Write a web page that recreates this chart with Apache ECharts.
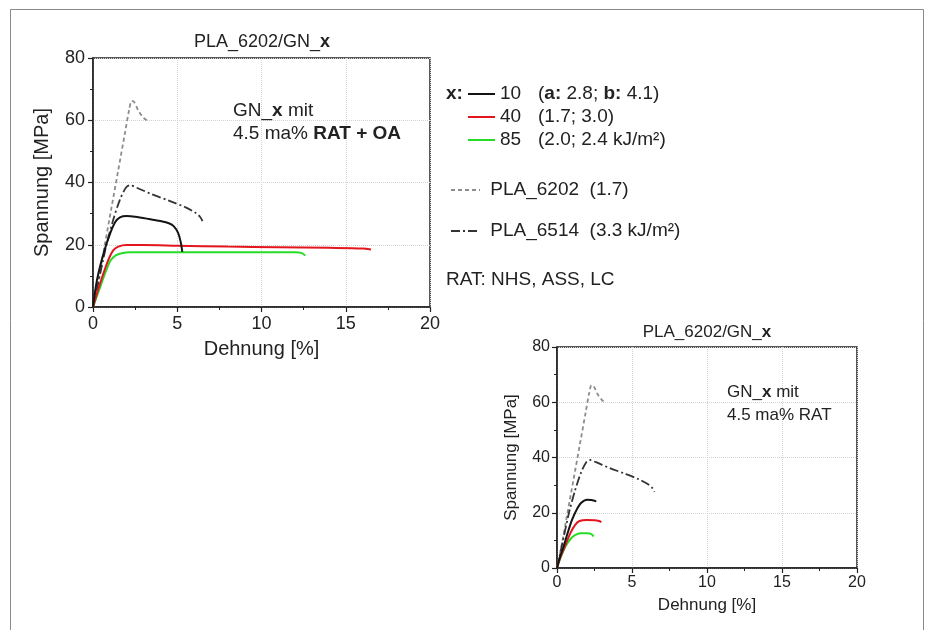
<!DOCTYPE html>
<html>
<head>
<meta charset="utf-8">
<script src="https://cdn.jsdelivr.net/npm/echarts@6/dist/echarts.min.js"></script>
<style>
html, body { margin: 0; padding: 0; background: #fff; }
#main { width: 928px; height: 630px; }
</style>
</head>
<body>
<div id="main"></div>
<script>
// axis ranges (Dehnung [%], Spannung [MPa])
var xRange = [0, 20, 5];
var yRange = [0, 80, 20];

// reference materials, same in both panels
var pla6202 = [[0, 0], [0.3, 8], [0.7, 20], [1.1, 32], [1.5, 44], [1.9, 56], [2.15, 63.5], [2.3, 66.2], [2.45, 65.8], [2.7, 63], [3.0, 60.8], [3.2, 60]];
var pla6514 = [[0, 0], [0.4, 10], [0.8, 20], [1.2, 28], [1.6, 34.5], [1.95, 38.3], [2.2, 39.1], [2.6, 38.3], [3.5, 36.2], [4.5, 34.2], [5.5, 32], [6.1, 30.2], [6.35, 29], [6.5, 27.6]];

// GN_x with 4.5 ma% RAT + OA (top panel)
var oa10 = [[0, 0], [0.24, 8.8], [0.63, 17.3], [1.03, 23.8], [1.32, 27.3], [1.6, 28.8], [2.0, 29.2], [2.5, 29], [3.3, 28.3], [4.0, 27.6], [4.5, 26.9], [4.8, 25.9], [5.05, 23.8], [5.2, 21], [5.3, 17.7]];
var oa40 = [[0, 0], [0.3, 5.5], [0.6, 10.5], [0.9, 15], [1.2, 18.2], [1.5, 19.4], [2, 19.9], [3, 19.9], [5, 19.7], [8, 19.4], [11, 19.2], [14, 19], [16, 18.8], [16.5, 18.5]];
var oa85 = [[0, 0], [0.3, 4.5], [0.55, 8.3], [0.8, 12], [1.05, 15], [1.35, 16.6], [1.7, 17.3], [2.2, 17.6], [5, 17.6], [9, 17.6], [12, 17.6], [12.4, 17.3], [12.6, 16.5]];

// GN_x with 4.5 ma% RAT (bottom panel)
var rat10 = [[0, 0], [0.2, 4], [0.44, 7.8], [0.7, 12.5], [1.0, 17.4], [1.3, 21], [1.6, 23.5], [2.0, 24.7], [2.3, 24.6], [2.62, 24.1]];
var rat40 = [[0, 0], [0.2, 3.5], [0.5, 7.5], [0.89, 12.6], [1.2, 15.5], [1.5, 17], [2.0, 17.4], [2.5, 17.3], [2.8, 17], [2.96, 16.6]];
var rat85 = [[0, 0], [0.2, 3.2], [0.56, 7.8], [0.9, 10.5], [1.2, 11.9], [1.56, 12.6], [2.0, 12.6], [2.3, 12.3], [2.44, 11.4]];

var FONT = 'Liberation Sans';
var C_BLACK = '#141414', C_RED = '#e3161e', C_GREEN = '#27dc27', C_GRAY = '#8c8c8c', C_DASHDOT = '#333333';

var myChart = echarts.init(document.getElementById('main'));

function curve(name, data, idx, color, type, width) {
	return {
		name: name,
		type: 'line',
		xAxisIndex: idx,
		yAxisIndex: idx,
		data: data,
		symbol: 'none',
		smooth: 0.3,
		lineStyle: { color: color, width: width, type: type },
		itemStyle: { color: color }
	};
}

function xAxisFor(idx, fs, nfs, gap, nameGap) {
	return {
		gridIndex: idx,
		type: 'value',
		min: xRange[0], max: xRange[1], interval: xRange[2],
		name: 'Dehnung [%]',
		nameLocation: 'middle',
		nameGap: nameGap,
		nameTextStyle: { fontFamily: FONT, fontSize: nfs, color: '#222', verticalAlign: 'top' },
		axisLine: { show: true, onZero: false, lineStyle: { color: '#222', width: 1.5 } },
		axisTick: { show: true, length: 5, lineStyle: { color: '#222', width: 1.2 } },
		minorTick: { show: true, splitNumber: 2, length: 3, lineStyle: { color: '#222', width: 1 } },
		axisLabel: { fontFamily: FONT, fontSize: fs, color: '#222', margin: gap },
		splitLine: { show: true, lineStyle: { color: '#d2d2d2', type: 'dotted', width: 1 } }
	};
}

function yAxisFor(idx, fs, nfs, gap, nameGap) {
	return {
		gridIndex: idx,
		type: 'value',
		min: yRange[0], max: yRange[1], interval: yRange[2],
		name: 'Spannung [MPa]',
		nameLocation: 'middle',
		nameGap: nameGap,
		nameTextStyle: { fontFamily: FONT, fontSize: nfs, color: '#222' },
		axisLine: { show: true, onZero: false, lineStyle: { color: '#222', width: 1.5 } },
		axisTick: { show: true, length: 5, lineStyle: { color: '#222', width: 1.2 } },
		minorTick: { show: true, splitNumber: 2, length: 3, lineStyle: { color: '#222', width: 1 } },
		axisLabel: { fontFamily: FONT, fontSize: fs, color: '#222', margin: gap },
		splitLine: { show: true, lineStyle: { color: '#d2d2d2', type: 'dotted', width: 1 } }
	};
}

var LFS = 19;
var legendText = { fontFamily: FONT, fontSize: LFS, color: '#222', lineHeight: 20 };
var legendRich = {
	n: { fontFamily: FONT, fontSize: LFS, color: '#222', width: 38 },
	t: { fontFamily: FONT, fontSize: LFS, color: '#222' },
	b: { fontFamily: FONT, fontSize: LFS, color: '#222', fontWeight: 'bold' }
};

function legendItem(name, left, top, w, fmt) {
	return {
		data: [name],
		left: left,
		top: top,
		padding: 0,
		itemWidth: w,
		itemHeight: 12,
		selectedMode: false,
		itemStyle: { opacity: 0, borderWidth: 0 },
		textStyle: Object.assign({ rich: legendRich }, legendText),
		formatter: fmt
	};
}

var titleStyle = { fontFamily: FONT, fontSize: 18, fontWeight: 'normal', color: '#222', lineHeight: 23 };

function textBox(text, left, top, fs, align) {
	return {
		text: text,
		left: left,
		top: top,
		padding: 0,
		textAlign: align || 'left',
		textStyle: Object.assign({}, titleStyle, {
			fontSize: fs,
			rich: {
				r: { fontFamily: FONT, fontSize: fs, color: '#222', lineHeight: 23 },
				b: { fontFamily: FONT, fontSize: fs, color: '#222', fontWeight: 'bold', lineHeight: 23 }
			}
		})
	};
}

var option = {
	animation: false,
	backgroundColor: '#fff',
	title: [
		textBox('{r|PLA_6202/GN_}{b|x}', 262, 31, 18, 'center'),
		textBox('{r|PLA_6202/GN_}{b|x}', 707, 321, 17, 'center'),
		textBox('{r|GN_}{b|x}{r| mit}\n{r|4.5 ma% }{b|RAT + OA}', 233, 99, 19),
		textBox('{r|GN_}{b|x}{r| mit}\n{r|4.5 ma% RAT}', 727, 381, 17),
		textBox('{b|x:}', 446, 82, 19),
		textBox('{r|RAT: NHS, ASS, LC}', 446, 268, 19)
	],
	legend: [
		legendItem('10', 467, 84, 27, function () { return '{n|10}{t|(}{b|a:}{t| 2.8; }{b|b:}{t| 4.1)}'; }),
		legendItem('40', 467, 107, 27, function () { return '{n|40}{t|(1.7; 3.0)}'; }),
		legendItem('85', 467, 130, 27, function () { return '{n|85}{t|(2.0; 2.4 kJ/m²)}'; }),
		legendItem('PLA_6202', 450, 180, 29, function () { return '{t| PLA_6202  (1.7)}'; }),
		legendItem('PLA_6514', 450, 221, 29, function () { return '{t| PLA_6514  (3.3 kJ/m²)}'; })
	],
	graphic: [{
		type: 'rect',
		silent: true,
		shape: { x: 10.5, y: 9.5, width: 913, height: 640 },
		style: { fill: 'none', stroke: '#8a8a8a', lineWidth: 1 }
	}],
	grid: [
		{ left: 93, top: 58, width: 337, height: 249, show: true, borderColor: '#222', borderWidth: 1.5, backgroundColor: 'transparent' },
		{ left: 557, top: 347, width: 300, height: 221, show: true, borderColor: '#222', borderWidth: 1.5, backgroundColor: 'transparent' }
	],
	xAxis: [xAxisFor(0, 18, 20, 8, 32), xAxisFor(1, 16, 17, 7, 29)],
	yAxis: [yAxisFor(0, 18, 20, 8, 41), yAxisFor(1, 16, 17, 7, 37)],
	series: [
		curve('PLA_6202', pla6202, 0, C_GRAY, [4, 3], 1.8),
		curve('PLA_6514', pla6514, 0, C_DASHDOT, [9, 3, 2, 3], 1.8),
		curve('85', oa85, 0, C_GREEN, 'solid', 2),
		curve('40', oa40, 0, C_RED, 'solid', 2),
		curve('10', oa10, 0, C_BLACK, 'solid', 2),
		curve('PLA_6202', pla6202, 1, C_GRAY, [4, 3], 1.8),
		curve('PLA_6514', pla6514, 1, C_DASHDOT, [9, 3, 2, 3], 1.8),
		curve('85', rat85, 1, C_GREEN, 'solid', 2),
		curve('40', rat40, 1, C_RED, 'solid', 2),
		curve('10', rat10, 1, C_BLACK, 'solid', 2)
	]
};
myChart.setOption(option);
</script>
</body>
</html>
